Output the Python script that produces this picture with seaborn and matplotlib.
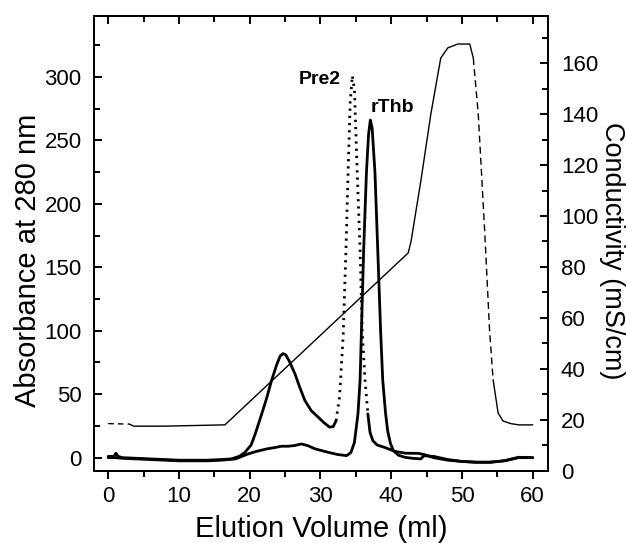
import matplotlib
matplotlib.use("Agg")
import matplotlib.pyplot as plt
import seaborn as sns
import pandas as pd
from matplotlib.ticker import MultipleLocator

# ---------------- data ----------------
# Pre2 absorbance trace (left axis) - baseline / first peak part
pre2_base_x = [0, 0.8, 1.1, 1.4, 2, 4, 6, 8, 10, 12, 14, 16, 17.4, 18.5, 19.3,
               20.2, 20.8, 21.7, 22.4, 23.1, 23.8, 24.3, 24.7, 25.1, 25.6,
               26.4, 27.1, 27.8, 28.7, 29.7, 30.5, 31.3, 31.8, 32.2]
pre2_base_y = [1, 1, 3.5, 1, 0, -0.5, -1, -1.5, -2, -2, -2, -1.5, -1, 1, 4,
               10, 19, 34.5, 47, 61, 73, 80, 82, 81, 76,
               66, 55, 45, 37, 31.8, 27.5, 24, 24.5, 29]
# Pre2 main peak (sparse points, drawn dotted)
pre2_peak_x = [32.2, 32.7, 33.2, 33.6, 33.9, 34.2, 34.5, 34.8, 35.2, 35.6,
               35.9, 36.3, 36.7]
pre2_peak_y = [29, 48, 95, 163, 224, 280, 301, 290, 224, 163,
               100, 61, 34.5]
# Pre2 tail
pre2_tail_x = [36.7, 37.0, 37.4, 38.0, 39.1, 40.5, 42, 43.8, 44.7, 46, 48,
               50, 52, 54, 56, 58, 60]
pre2_tail_y = [34.5, 20, 13.4, 10, 8, 5, 3.5, 3.4, 2.4, 0, -2,
               -3, -3.5, -3.5, -2.5, 0, 0]

# rThb absorbance trace (left axis)
rthb_x = [0, 1, 2, 4, 6, 8, 10, 12, 14, 16, 18, 19.8, 21, 22.5, 23.6, 24.5,
          25.4, 26.3, 27.3, 28.2, 29.2, 30.2, 31.1, 32.4, 33.7, 34.3, 34.8,
          35.3, 35.6, 36.1, 36.5, 36.8, 37.05, 37.3, 37.7, 38.1, 38.5, 38.8,
          39.2, 39.5, 39.9, 40.3, 41.0, 41.9, 43, 44.2, 44.6, 46, 48, 50, 52,
          54, 56, 58, 60]
rthb_y = [0, 0, -0.5, -1, -1.5, -2, -2.5, -2.5, -2.5, -2, -1, 3, 5, 7, 8, 9,
          9, 9.5, 10.8, 9.5, 7, 5.5, 4.2, 2.5, 1.6, 4, 12,
          34.5, 61, 163, 225, 255, 266, 260, 225, 163, 100, 61,
          35, 21, 11, 5.5, 2, 0.3, -0.5, -1, 1.5, 1, -1.5, -3, -3.7,
          -3.7, -2.4, 0.3, 0]

# Conductivity trace (right axis)
cond_start_x = [0, 3]
cond_start_y = [18.5, 18.3]
cond_main_x = [3, 3.6, 8, 13, 16.5, 42.4, 42.8, 44.2, 45.6, 47.0, 48.0,
               49.4, 51.1, 51.6]
cond_main_y = [18.3, 17.5, 17.5, 17.8, 18, 85.5, 90, 114, 140, 162, 166,
               167.5, 167.5, 162]
cond_drop_x = [51.6, 52.3, 53.2, 53.9, 54.4]
cond_drop_y = [162, 140, 94.5, 55, 35.7]
cond_end_x = [54.4, 55.1, 55.8, 56.9, 58, 60]
cond_end_y = [35.7, 22.7, 19.5, 18.5, 18, 18]

x_ticks = [0, 10, 20, 30, 40, 50, 60]
left_ticks = [0, 50, 100, 150, 200, 250, 300]
right_ticks = [0, 20, 40, 60, 80, 100, 120, 140, 160]

peak_labels = ["Pre2", "rThb"]
peak_label_x = [32.8, 37.1]
peak_label_y = [298, 276]

# ---------------- style ----------------
sns.set_theme(style="ticks")
plt.rcParams["font.family"] = ["Liberation Sans", "DejaVu Sans"]
plt.rcParams["axes.linewidth"] = 1.4
for k in ("text.color", "axes.labelcolor", "xtick.color", "ytick.color",
          "axes.edgecolor"):
    plt.rcParams[k] = "black"

fig = plt.figure(figsize=(6.26, 5.43), dpi=100)
ax = fig.add_axes([0.1502, 0.1331, 0.7257, 0.8374])
ax2 = ax.twinx()

def seg(axis, xs, ys, lw, ls):
    df = pd.DataFrame({"x": xs, "y": ys})
    sns.lineplot(data=df, x="x", y="y", ax=axis, color="black", lw=lw,
                 linestyle=ls, sort=False, estimator=None)

thick = 2.0
seg(ax, pre2_base_x, pre2_base_y, thick, "-")
seg(ax, pre2_peak_x, pre2_peak_y, thick, (0, (0.8, 1.8)))
seg(ax, pre2_tail_x, pre2_tail_y, thick, "-")
seg(ax, rthb_x, rthb_y, thick, "-")

thin = 1.0
seg(ax2, cond_start_x, cond_start_y, thin, (0, (4, 3)))
seg(ax2, cond_main_x, cond_main_y, thin, "-")
seg(ax2, cond_drop_x, cond_drop_y, thin, (0, (5, 3)))
seg(ax2, cond_end_x, cond_end_y, thin, "-")

for t, xx, yy in zip(peak_labels, peak_label_x, peak_label_y):
    ha = "right" if t == "Pre2" else "left"
    ax.text(xx, yy, t, fontsize=14, fontweight="bold", ha=ha, va="center")

ax.set_xlim(-2.0, 62.2)
ax.set_ylim(-10.3, 348)
ax2.set_ylim(0, 178.5)

ax.set_xticks(x_ticks)
ax.set_yticks(left_ticks)
ax2.set_yticks(right_ticks)
ax.xaxis.set_minor_locator(MultipleLocator(5))
ax.yaxis.set_minor_locator(MultipleLocator(25))
ax2.yaxis.set_minor_locator(MultipleLocator(10))

ax.set_xlabel("Elution Volume (ml)", fontsize=21)
ax.set_ylabel("Absorbance at 280 nm", fontsize=21)
ax2.set_ylabel("Conductivity (mS/cm)", fontsize=19.5, rotation=270)
ax.xaxis.set_label_coords(0.5, -0.128)
ax.xaxis.label.set_va("center")
ax.yaxis.set_label_coords(-0.146, 0.462)
ax.yaxis.label.set_va("center")
ax2.yaxis.set_label_coords(1.14, 0.485)
ax2.yaxis.label.set_va("center")

ax.tick_params(axis="x", which="both", direction="out", top=False,
               labelsize=16, width=1.4, pad=5)
ax.tick_params(axis="x", which="major", length=6)
ax.tick_params(axis="x", which="minor", length=4)
ax.tick_params(axis="y", which="both", direction="in", labelsize=16,
               width=1.4, pad=9)
ax.tick_params(axis="y", which="major", length=6)
ax.tick_params(axis="y", which="minor", length=4)
ax2.tick_params(axis="y", which="both", direction="in", labelsize=16,
                width=1.4, pad=9)
ax2.tick_params(axis="y", which="major", length=6)
ax2.tick_params(axis="y", which="minor", length=4)

# top ticks pointing inward
secx = ax.secondary_xaxis("top")
secx.set_xticks(x_ticks)
secx.xaxis.set_minor_locator(MultipleLocator(5))
secx.tick_params(axis="x", which="both", direction="in", labeltop=False,
                 width=1.4)
secx.tick_params(axis="x", which="major", length=6)
secx.tick_params(axis="x", which="minor", length=4)

for a in (ax, ax2):
    for s in a.spines.values():
        s.set_visible(True)
        s.set_color("black")
        s.set_linewidth(1.4)

fig.savefig("out.png", dpi=100)
